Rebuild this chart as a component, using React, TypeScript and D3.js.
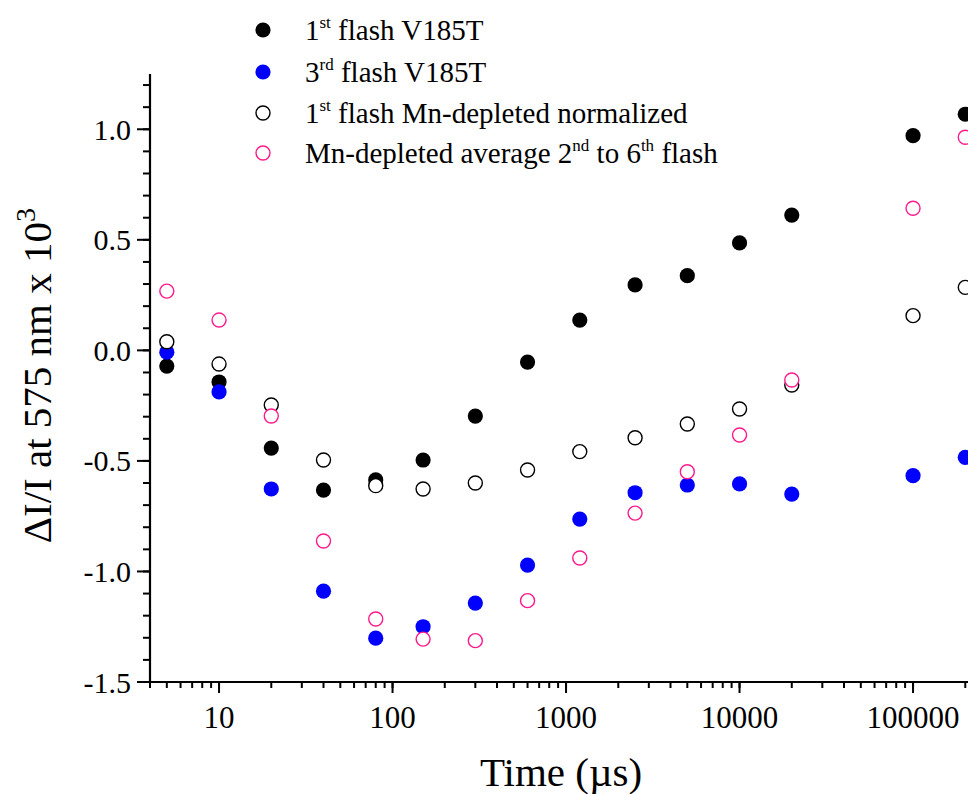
import React from "react";
import * as d3 from "d3";

const times = [5, 10, 20, 40, 80, 150, 300, 600, 1200, 2500, 5000, 10000, 20000, 100000, 200000];
const firstFlashV185T = [-0.071, -0.143, -0.442, -0.632, -0.586, -0.496, -0.297, -0.053, 0.137, 0.296, 0.338, 0.486, 0.612, 0.971, 1.068];
const thirdFlashV185T = [-0.008, -0.188, -0.627, -1.089, -1.302, -1.25, -1.143, -0.971, -0.763, -0.644, -0.609, -0.604, -0.65, -0.567, -0.484];
const firstFlashMnDepleted = [0.039, -0.062, -0.247, -0.496, -0.612, -0.627, -0.6, -0.541, -0.458, -0.395, -0.333, -0.265, -0.157, 0.157, 0.285];
const mnDepletedAverage = [0.268, 0.137, -0.297, -0.862, -1.215, -1.306, -1.313, -1.132, -0.939, -0.736, -0.549, -0.383, -0.134, 0.643, 0.964];

const yMajorTicks = [-1.5, -1.0, -0.5, 0.0, 0.5, 1.0];
const xMajorTicks = [10, 100, 1000, 10000, 100000];

const W = 968;
const H = 794;
const FONT = '"Liberation Serif", "Times New Roman", Times, serif';
const PINK = "#ff1a8c";
const BLUE = "#0000ff";

export default function App() {
  const left = 150;
  const bottom = 682;
  const top = 74;
  const decade = 173.5;
  const x = d3
    .scaleLog()
    .domain([4, 1e6])
    .range([left, left + decade * Math.log10(1e6 / 4)]);
  const y = d3.scaleLinear().domain([-1.5, 1.25]).range([bottom, top]);

  const yMinor = d3.range(-15, 13).map((i) => i / 10).filter((v) => v <= 1.25 + 1e-9);
  const xMinor: number[] = [];
  for (let e = 0; e <= 5; e++) {
    for (let m = 1; m <= 9; m++) {
      const v = m * Math.pow(10, e);
      if (v >= 4 && x(v) <= W + 5) xMinor.push(v);
    }
  }

  const series = [
    { name: "black", values: firstFlashV185T, fill: "#000", stroke: "none" },
    { name: "blue", values: thirdFlashV185T, fill: BLUE, stroke: "none" },
    { name: "open", values: firstFlashMnDepleted, fill: "#fff", stroke: "#000" },
    { name: "pink", values: mnDepletedAverage, fill: "#fff", stroke: PINK },
  ];

  const legend = [
    { fill: "#000", stroke: "none", parts: [["1", ""], ["st", "sup"], [" flash V185T", ""]] },
    { fill: BLUE, stroke: "none", parts: [["3", ""], ["rd", "sup"], [" flash V185T", ""]] },
    { fill: "#fff", stroke: "#000", parts: [["1", ""], ["st", "sup"], [" flash Mn-depleted normalized", ""]] },
    {
      fill: "#fff",
      stroke: PINK,
      parts: [["Mn-depleted average 2", ""], ["nd", "sup"], [" to 6", ""], ["th", "sup"], [" flash", ""]],
    },
  ];
  const legendY = [30, 72, 113, 153];
  const tf = { fontFamily: FONT };

  return (
    <svg
      width={W}
      height={H}
      style={{ position: "absolute", left: 0, top: 0, background: "#fff", fontFamily: FONT }}
    >
      <rect x={0} y={0} width={W} height={H} fill="#fff" />
      {/* Y axis */}
      <line x1={left} x2={left} y1={top} y2={bottom + 1} stroke="#000" strokeWidth={2.2} />
      {yMinor.map((v, i) => (
        <line key={"ym" + i} x1={left - 7} x2={left} y1={y(v)} y2={y(v)} stroke="#000" strokeWidth={2} />
      ))}
      {yMajorTicks.map((v, i) => (
        <g key={"yM" + i}>
          <line x1={left - 13} x2={left} y1={y(v)} y2={y(v)} stroke="#000" strokeWidth={2} />
          <text x={131} y={y(v) + 10.5} textAnchor="end" fontSize={30} style={tf}>
            {v.toFixed(1)}
          </text>
        </g>
      ))}
      {/* X axis */}
      <line x1={left - 1} x2={W + 10} y1={bottom} y2={bottom} stroke="#000" strokeWidth={2.2} />
      {xMinor.map((v, i) => (
        <line key={"xm" + i} x1={x(v)} x2={x(v)} y1={bottom} y2={bottom + 6} stroke="#000" strokeWidth={2} />
      ))}
      {xMajorTicks.map((v, i) => (
        <g key={"xM" + i}>
          <line x1={x(v)} x2={x(v)} y1={bottom} y2={bottom + 11} stroke="#000" strokeWidth={2} />
          <text x={x(v)} y={728} textAnchor="middle" fontSize={31} style={tf}>
            {String(v)}
          </text>
        </g>
      ))}
      {/* Axis titles */}
      <text x={561} y={786} textAnchor="middle" fontSize={41} style={tf}>
        Time (µs)
      </text>
      <text transform={`translate(51,208) rotate(-90)`} textAnchor="end" fontSize={41} style={tf}>
        ΔI/I at 575 nm x 10
        <tspan fontSize={28} dy={-16}>
          3
        </tspan>
      </text>
      {/* Data */}
      {series.map((s) => (
        <g key={s.name}>
          {s.values.map((v, i) => (
            <circle
              key={i}
              cx={x(times[i])}
              cy={y(v)}
              r={s.stroke === "none" ? 7.6 : 7}
              fill={s.fill}
              stroke={s.stroke}
              strokeWidth={1.4}
            />
          ))}
        </g>
      ))}
      {/* Legend */}
      {legend.map((l, i) => (
        <g key={"lg" + i}>
          <circle
            cx={263}
            cy={legendY[i]}
            r={l.stroke === "none" ? 7.6 : 7}
            fill={l.fill}
            stroke={l.stroke}
            strokeWidth={1.4}
          />
          <text x={305} y={legendY[i] + 10} fontSize={29} style={tf}>
            {l.parts.map((p, j) =>
              p[1] === "sup" ? (
                <tspan key={j} fontSize={17} dy={-12}>
                  {p[0]}
                </tspan>
              ) : (
                <tspan key={j} dy={j > 0 && l.parts[j - 1][1] === "sup" ? 12 : 0}>
                  {p[0]}
                </tspan>
              )
            )}
          </text>
        </g>
      ))}
    </svg>
  );
}
